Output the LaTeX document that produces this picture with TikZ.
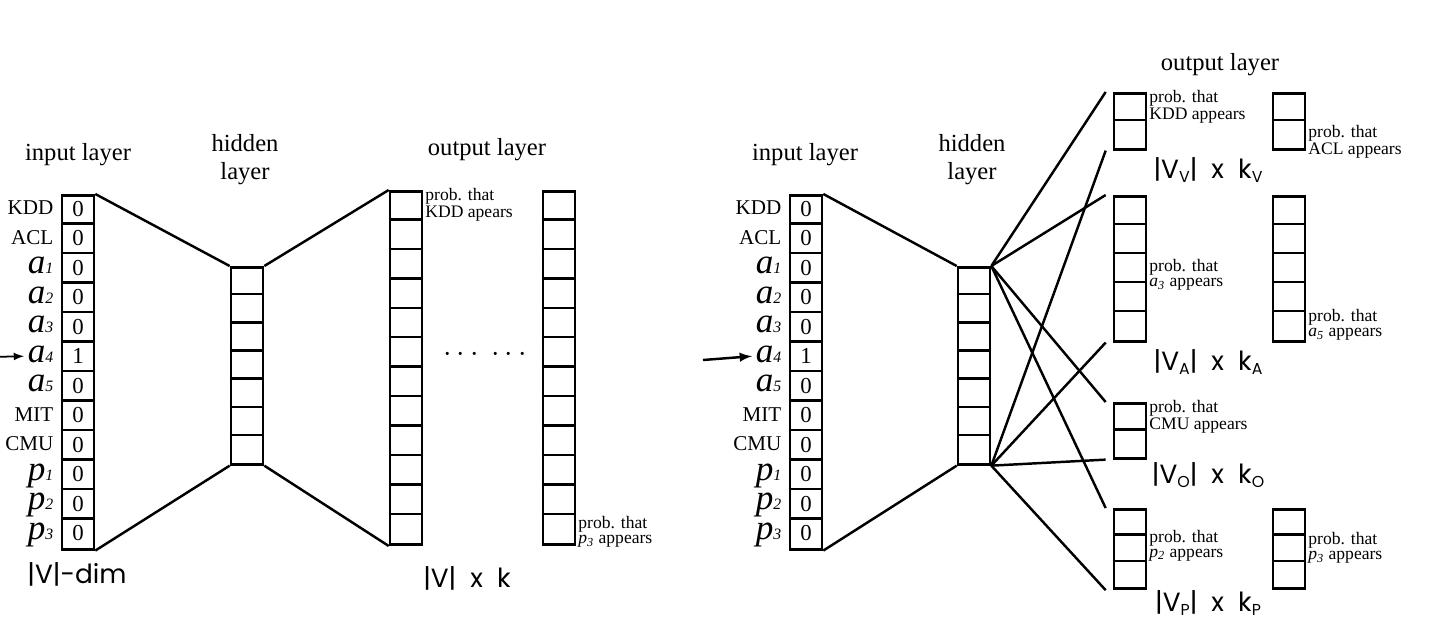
\documentclass[tikz,border=0pt]{standalone}
\usepackage{fontspec}
\setmainfont{Liberation Serif}
\newfontfamily\dimfont{Poppins}
\usetikzlibrary{positioning}

\tikzset{
  col/.style={draw, line width=1.5pt, inner sep=0pt, minimum width=0.64cm},
  cut/.style={line width=1.4pt},
  link/.style={line width=1.4pt},
  ttl/.style={font=\fontsize{14}{16}\selectfont, align=center},
  prob/.style={font=\fontsize{10}{8.5}\selectfont, align=left, anchor=west, inner sep=1pt},
  dim/.style={font=\dimfont\fontsize{15}{16}\selectfont},
  tok/.style={font=\fontsize{12}{12}\selectfont, anchor=east, inner sep=0pt, text height=1.7ex, text depth=0.2ex},
}
% column of cells: name, x, top y, cells, cell height (cm)
\newcommand{\vcol}[5]{%
  \node[col, minimum height=#4*#5 cm, anchor=north] (#1) at (#2,#3) {};
  \foreach \i in {2,...,#4}
    \draw[cut] ([yshift=-(\i-1)*#5 cm]#1.north west) -- ([yshift=-(\i-1)*#5 cm]#1.north east);
}
\newcommand{\sym}[2]{{\fontsize{20}{20}\selectfont\textit{#1}}{\fontsize{9}{9}\selectfont\textit{#2}}}
\newcommand{\sub}[1]{\raisebox{-0.3ex}{\fontsize{9}{9}\selectfont #1}}
% input column with its tokens
\newcommand{\incol}[3]{%
  \vcol{#1}{#2}{194}{12}{0.59}
  \foreach \v [count=\i] in {0,0,0,0,0,1,0,0,0,0,0,0}
    \node[font=\fontsize{13}{13}\selectfont] at ([yshift=-(\i-0.5)*0.59 cm]#1.north) {\v};
  \foreach \t [count=\i] in {KDD,ACL,\sym{a}{1},\sym{a}{2},\sym{a}{3},\sym{a}{4},\sym{a}{5},MIT,CMU,\sym{p}{1},\sym{p}{2},\sym{p}{3}}
    \node[tok] (#3\i) at ([xshift=-4pt,yshift=-(\i-0.5)*0.59 cm]#1.north west) {\t};
}

\begin{document}
\begin{tikzpicture}[x=0.02cm, y=-0.02cm]
\useasboundingbox (0,0) rectangle (1440,637);

% left model
\incol{inL}{78}{tL}
\vcol{hidL}{247}{266}{7}{0.563}
\vcol{outL}{406}{190}{12}{0.589}
\vcol{outLb}{559}{190}{12}{0.589}
\draw[link] (inL.north east) -- (hidL.north west);
\draw[link] (inL.south east) -- (hidL.south west);
\draw[link] (hidL.north east) -- (outL.north west);
\draw[link] (hidL.south east) -- (outL.south west);
\coordinate (arL) at (-10,357);
\draw[-latex, line width=1pt] (arL) -- ([xshift=-2pt]tL6.west);
\node[ttl] at (78,155) {input layer};
\node[ttl] at (245,160) {hidden\\layer};
\node[ttl] at (487,150) {output layer};
\node[prob] at (outL.north east) [anchor=north west, yshift=2pt] {prob. that\\KDD apears};
\node[prob] at (outLb.south east) [anchor=south west, yshift=-2pt] {prob. that\\\textit{p\textsubscript{3}} appears};
\node[font=\fontsize{18}{18}\selectfont] at (485,355) {$\cdots\ \cdots$};
\node[dim] at (77,574) {|V|-dim};
\node[dim] at (467,578) {|V|~ x ~k};

% right model
\incol{inR}{806}{tR}
\vcol{hidR}{974}{266}{7}{0.563}
\draw[link] (inR.north east) -- (hidR.north west);
\draw[link] (inR.south east) -- (hidR.south west);
\coordinate (arR) at (703,360);
\draw[-latex, line width=1.4pt] (arR) -- ([xshift=-2pt]tR6.west);
\node[ttl] at (805,155) {input layer};
\node[ttl] at (972,160) {hidden\\layer};
\node[ttl] at (1220,65) {output layer};

\vcol{oV}{1130}{92}{2}{0.56}
\vcol{oVb}{1289}{92}{2}{0.56}
\vcol{oA}{1130}{195}{5}{0.58}
\vcol{oAb}{1289}{195}{5}{0.58}
\vcol{oO}{1130}{402}{2}{0.55}
\vcol{oP}{1130}{508}{3}{0.53}
\vcol{oPb}{1289}{508}{3}{0.53}

\foreach \o in {oV,oA,oO,oP} {
  \draw[link] (hidR.north east) -- ([xshift=-4pt]\o.north west);
  \draw[link] (hidR.south east) -- ([xshift=-4pt]\o.south west);
}

\node[prob] at (oV.north east) [anchor=north west, yshift=2pt] {prob. that\\KDD appears};
\node[prob] at (oVb.east) [anchor=north west, yshift=-1pt] {prob. that\\ACL appears};
\node[prob] at ([yshift=-1.6cm]oA.north east) {prob. that\\\textit{a\textsubscript{3}} appears};
\node[prob] at ([yshift=-2.6cm]oAb.north east) {prob. that\\\textit{a\textsubscript{5}} appears};
\node[prob] at (oO.north east) [anchor=north west, yshift=2pt] {prob. that\\CMU appears};
\node[prob] at ([yshift=-0.75cm]oP.north east) {prob. that\\\textit{p\textsubscript{2}} appears};
\node[prob] at ([yshift=-0.8cm]oPb.north east) {prob. that\\\textit{p\textsubscript{3}} appears};

\node[dim] at (1208,170) {|V\sub{V}|~ x ~k\sub{V}};
\node[dim] at (1208,362) {|V\sub{A}|~ x ~k\sub{A}};
\node[dim] at (1208,475) {|V\sub{O}|~ x ~k\sub{O}};
\node[dim] at (1208,603) {|V\sub{P}|~ x ~k\sub{P}};
\end{tikzpicture}
\end{document}
